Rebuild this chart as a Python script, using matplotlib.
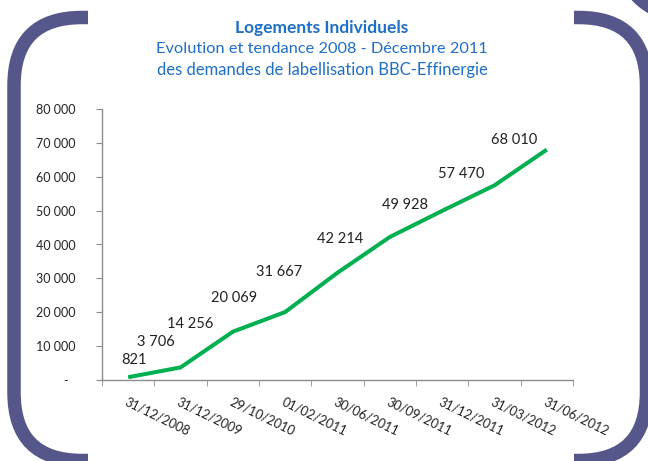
import matplotlib.pyplot as plt
from matplotlib.patches import FancyBboxPatch, Rectangle, Arc
from matplotlib.ticker import FixedLocator, FuncFormatter

OUTPUT_PATH = "out.png"

# data
dates = ["31/12/2008", "31/12/2009", "29/10/2010", "01/02/2011", "30/06/2011",
         "30/09/2011", "31/12/2011", "31/03/2012", "31/06/2012"]
demandes = [821, 3706, 14256, 20069, 31667, 42214, 49928, 57470, 68010]
y_ticks = [0, 10000, 20000, 30000, 40000, 50000, 60000, 70000, 80000]

# manual label placement (pixels, relative to each point), like the original
label_offsets = [(6, 17), (-25, 25), (-43, 8), (-51, 14), (-58, 1),
                 (-50, -2), (-37, 6), (-33, 11), (-33, 10)]

TITLE_BLUE = "#1F6FC5"
FRAME = "#55568A"
GREEN = "#00B050"
AXIS_GRAY = "#8C8C8C"
FONT = "Lato"


def thousands(v, _pos=None):
    if v == 0:
        return "-  "
    return f"{int(v):,}".replace(",", " ")


def main() -> None:
    plt.rcParams["font.family"] = [FONT, "DejaVu Sans"]
    W, H = 648, 461
    fig = plt.figure(figsize=(W / 100, H / 100), dpi=100)

    # decorative rounded frame, drawn in pixel coordinates
    bg = fig.add_axes([0, 0, 1, 1], zorder=-1)
    bg.set_xlim(0, W)
    bg.set_ylim(H, 0)
    bg.axis("off")
    bg.add_patch(FancyBboxPatch((14, 17.5), 632.5, 443, boxstyle="round,pad=0,rounding_size=68",
                                fill=False, edgecolor=FRAME, linewidth=9.7))
    bg.add_patch(Rectangle((88, -5), 486, 45, facecolor="white", edgecolor="none"))
    bg.add_patch(Rectangle((88, 425), 486, 45, facecolor="white", edgecolor="none"))
    bg.add_patch(Arc((682, -46), 124, 124, theta1=90, theta2=180, edgecolor=FRAME, linewidth=9.0))

    fig.text(0.497, 1 - 28 / H, "Logements Individuels", ha="center", va="center",
             fontsize=12.5, fontweight="bold", color=TITLE_BLUE)
    fig.text(0.497, 1 - 49 / H, "Evolution et tendance 2008 - Décembre 2011", ha="center",
             va="center", fontsize=11.8, color=TITLE_BLUE)
    fig.text(0.497, 1 - 70 / H, "des demandes de labellisation BBC-Effinergie", ha="center",
             va="center", fontsize=12, color=TITLE_BLUE)

    ax = fig.add_axes([102 / W, 1 - 380 / H, 471 / W, 271 / H])
    ax.patch.set_alpha(0)
    x = list(range(len(dates)))
    ax.plot(x, demandes, color=GREEN, linewidth=2.9, solid_capstyle="butt", solid_joinstyle="round")

    for xi, v, (dx, dy) in zip(x, demandes, label_offsets):
        ax.annotate(thousands(v), (xi, v), xytext=(dx, dy), textcoords="offset pixels",
                    ha="center", va="center", fontsize=10.5, color="#222222")

    ax.set_xlim(-0.5, len(dates) - 0.5)
    ax.set_ylim(0, 80000)
    ax.yaxis.set_major_locator(FixedLocator(y_ticks))
    ax.yaxis.set_major_formatter(FuncFormatter(thousands))
    ax.set_xticks(x)
    ax.set_xticklabels(dates, rotation=-26, ha="left", va="top", rotation_mode="anchor")
    ax.set_xticks([i - 0.5 for i in range(len(dates) + 1)], minor=True)

    for side in ("top", "right"):
        ax.spines[side].set_visible(False)
    for side in ("left", "bottom"):
        ax.spines[side].set_color(AXIS_GRAY)
        ax.spines[side].set_linewidth(1.0)

    ax.tick_params(axis="x", which="major", length=0, pad=11, labelsize=9.2, labelcolor="#222222")
    ax.tick_params(axis="x", which="minor", length=4, color=AXIS_GRAY, direction="out")
    ax.tick_params(axis="y", length=4, color=AXIS_GRAY, direction="out", pad=15,
                   labelsize=9, labelcolor="#222222")

    fig.savefig(OUTPUT_PATH, dpi=100)


if __name__ == "__main__":
    main()
